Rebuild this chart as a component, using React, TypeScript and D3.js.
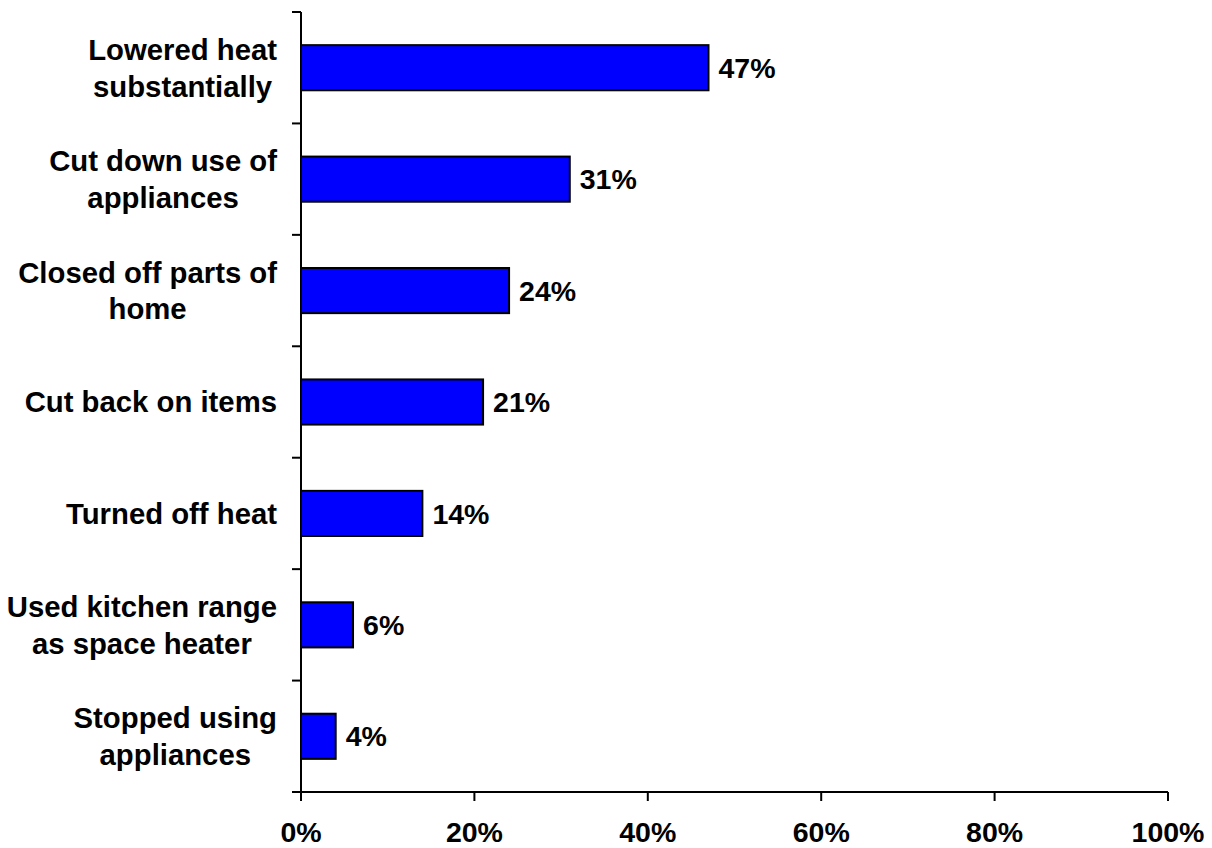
import React from "react";
import * as d3 from "d3";

const categoryLines: string[][] = [
  ["Lowered heat", "substantially"],
  ["Cut down use of", "appliances"],
  ["Closed off parts of", "home"],
  ["Cut back on items"],
  ["Turned off heat"],
  ["Used kitchen range", "as space heater"],
  ["Stopped using", "appliances"],
];
const values: number[] = [47, 31, 24, 21, 14, 6, 4];
const xTicks: number[] = [0, 20, 40, 60, 80, 100];

const W = 1212;
const H = 848;
const FONT = "'Liberation Sans', Arial, Helvetica, sans-serif";
const CAT_SIZE = 29.3;
const VAL_SIZE = 28.5;
const LINE_H = 36.8;

let ctx: CanvasRenderingContext2D | null = null;
function measure(text: string, size: number): number {
  if (!ctx && typeof document !== "undefined") {
    ctx = document.createElement("canvas").getContext("2d");
  }
  if (!ctx) return text.length * size * 0.55;
  ctx.font = `bold ${size}px ${FONT}`;
  return ctx.measureText(text).width;
}

export default function App() {
  const x0 = 301;
  const x1 = 1168;
  const yTop = 12;
  const yBot = 792;

  const x = d3.scaleLinear().domain([0, 100]).range([x0, x1]);
  const idx = categoryLines.map((_, i) => String(i));
  const y = d3
    .scaleBand<string>()
    .domain(idx)
    .range([yTop, yBot])
    .paddingInner(0.595)
    .paddingOuter(0.2975);
  const step = y.step();
  const boundaries = d3.range(categoryLines.length + 1).map((i) => yTop + i * step);

  const labelRight = 277;
  const capHalf = CAT_SIZE * 0.716 / 2;

  return (
    <svg width={W} height={H} style={{ position: "absolute", left: 0, top: 0, background: "#fff" }}>
      <rect x={0} y={0} width={W} height={H} fill="#fff" />
      {values.map((v, i) => (
        <rect
          key={"b" + i}
          x={x(0)}
          y={y(String(i))!}
          width={x(v) - x(0)}
          height={y.bandwidth()}
          fill="#0000FF"
          stroke="#000"
          strokeWidth={2}
        />
      ))}
      {values.map((v, i) => (
        <text
          key={"v" + i}
          x={x(v) + 10}
          y={y(String(i))! + y.bandwidth() / 2 + VAL_SIZE * 0.716 / 2}
          fontFamily={FONT}
          fontWeight="bold"
          fontSize={VAL_SIZE}
          fill="#000"
        >
          {v}%
        </text>
      ))}
      <line x1={x0} x2={x0} y1={yTop} y2={yBot + 9} stroke="#000" strokeWidth={2} />
      {boundaries.map((b, i) => (
        <line key={"yt" + i} x1={x0 - 9} x2={x0} y1={b} y2={b} stroke="#000" strokeWidth={2} />
      ))}
      <line x1={x0 - 9} x2={x1} y1={yBot} y2={yBot} stroke="#000" strokeWidth={2} />
      {xTicks.map((t) => (
        <g key={"xt" + t}>
          <line x1={x(t)} x2={x(t)} y1={yBot} y2={yBot + 9} stroke="#000" strokeWidth={2} />
          <text
            x={x(t)}
            y={842}
            textAnchor="middle"
            fontFamily={FONT}
            fontWeight="bold"
            fontSize={VAL_SIZE}
            fill="#000"
          >
            {t}%
          </text>
        </g>
      ))}
      {categoryLines.map((lines, i) => {
        const maxW = Math.max(...lines.map((l) => measure(l, CAT_SIZE)));
        const cx = labelRight - maxW / 2;
        const center = y(String(i))! + y.bandwidth() / 2;
        const firstBase = center + capHalf - ((lines.length - 1) * LINE_H) / 2;
        return (
          <text
            key={"c" + i}
            textAnchor="middle"
            fontFamily={FONT}
            fontWeight="bold"
            fontSize={CAT_SIZE}
            fill="#000"
          >
            {lines.map((l, j) => (
              <tspan key={j} x={cx} y={firstBase + j * LINE_H}>
                {l}
              </tspan>
            ))}
          </text>
        );
      })}
    </svg>
  );
}
